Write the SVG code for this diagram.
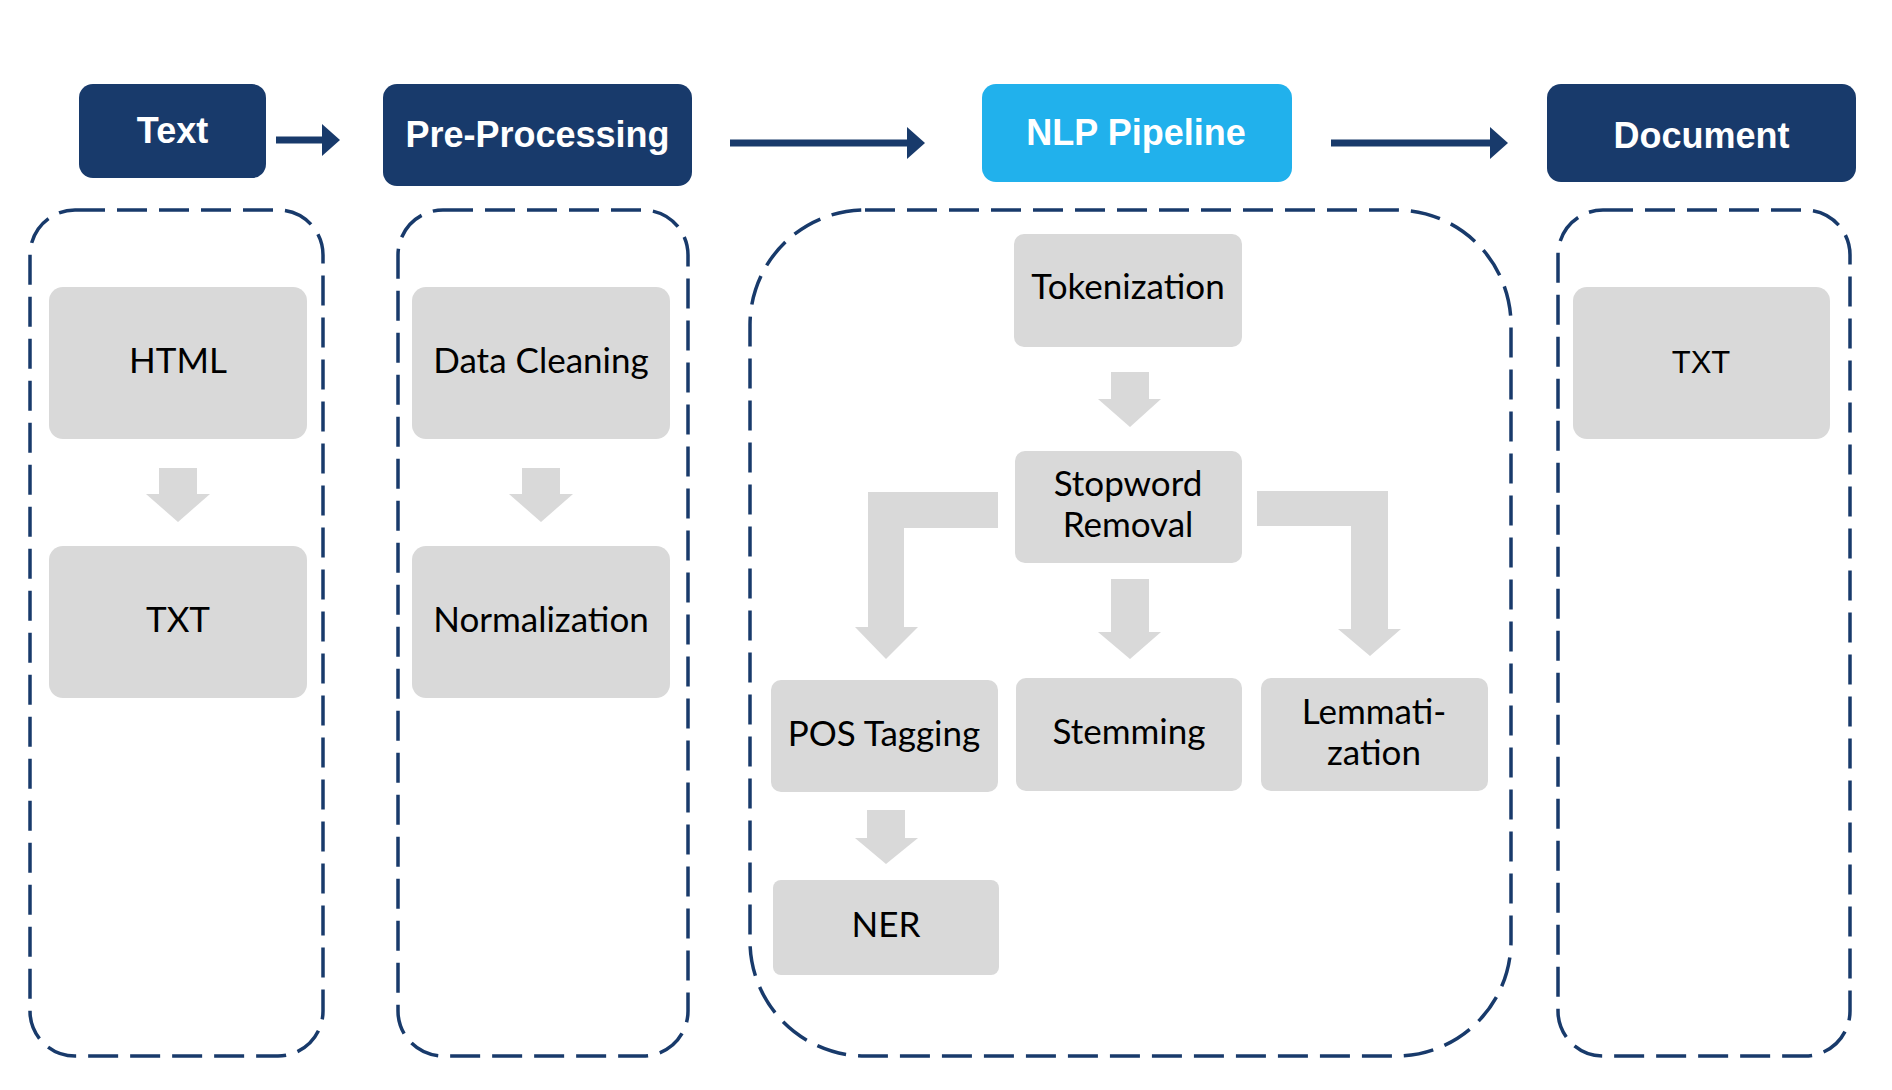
<svg xmlns="http://www.w3.org/2000/svg" width="1892" height="1090" viewBox="0 0 1892 1090">
<style>
.hdr{fill:#183a6b}
.hdr2{fill:#21b1ec}
.ht{font-family:"Liberation Sans",Arial,sans-serif;font-weight:bold;font-size:36px;fill:#fff;text-anchor:middle}
.box{fill:#d9d9d9}
.bt{font-family:Lato,"Liberation Sans",sans-serif;font-size:35px;fill:#000;text-anchor:middle}
.bt2{font-family:"Liberation Sans",Arial,sans-serif;font-size:31px;fill:#000;text-anchor:middle}
.cont{fill:none;stroke:#183a6b;stroke-width:3.5;stroke-dasharray:30 12}
.nav{stroke:#183a6b;stroke-width:7;fill:none}
.ga{fill:#d9d9d9}
</style>
<defs>
<marker id="ah" markerUnits="userSpaceOnUse" markerWidth="20" markerHeight="32" refX="0" refY="16" orient="auto">
<path d="M0,0 L18,16 L0,32 Z" fill="#183a6b"/>
</marker>
</defs>
<rect width="1892" height="1090" fill="#fff"/>
<g id="containers">
<rect class="cont" x="30" y="210" width="293" height="846" rx="45" ry="45"/>
<rect class="cont" x="398" y="210" width="290" height="846" rx="45" ry="45"/>
<rect class="cont" x="750" y="210" width="761" height="846" rx="115" ry="115"/>
<rect class="cont" x="1558" y="210" width="292" height="846" rx="45" ry="45"/>
</g>
<g id="connectors">
<line class="nav" x1="276" y1="140" x2="322" y2="140" marker-end="url(#ah)"/>
<line class="nav" x1="730" y1="143" x2="907" y2="143" marker-end="url(#ah)"/>
<line class="nav" x1="1331" y1="143" x2="1490" y2="143" marker-end="url(#ah)"/>
<polygon class="ga" points="159,468 197,468 197,494 210,494 178,522 146,494 159,494"/>
<polygon class="ga" points="522,468 560,468 560,494 573,494 541,522 509,494 522,494"/>
<polygon class="ga" points="1111,372 1149,372 1149,399 1161,399 1130,427 1098,399 1111,399"/>
<polygon class="ga" points="998,492 868,492 868,627 855,627 886,659 918,627 904,627 904,528 998,528"/>
<polygon class="ga" points="1111,579 1149,579 1149,632 1161,632 1130,659 1098,632 1111,632"/>
<polygon class="ga" points="1257,491 1388,491 1388,629 1401,629 1370,656 1338,629 1351,629 1351,526 1257,526"/>
<polygon class="ga" points="867,810 905,810 905,838 918,838 886,864 855,838 867,838"/>
</g>
<g id="text-header"><rect class="hdr" x="79" y="84" width="187" height="94" rx="14"/><text class="ht" x="172.5" y="143">Text</text></g>
<g id="preprocessing-header"><rect class="hdr" x="383" y="84" width="309" height="102" rx="14"/><text class="ht" x="537.5" y="147">Pre-Processing</text></g>
<g id="nlp-header"><rect class="hdr2" x="982" y="84" width="310" height="98" rx="14"/><text class="ht" x="1136" y="145">NLP Pipeline</text></g>
<g id="document-header"><rect class="hdr" x="1547" y="84" width="309" height="98" rx="14"/><text class="ht" x="1701.5" y="148">Document</text></g>
<g id="html"><rect class="box" x="49" y="287" width="258" height="152" rx="14"/><text class="bt" x="178" y="373">HTML</text></g>
<g id="txt1"><rect class="box" x="49" y="546" width="258" height="152" rx="14"/><text class="bt" x="178" y="632">TXT</text></g>
<g id="datacleaning"><rect class="box" x="412" y="287" width="258" height="152" rx="14"/><text class="bt" x="541" y="373">Data Cleaning</text></g>
<g id="normalization"><rect class="box" x="412" y="546" width="258" height="152" rx="14"/><text class="bt" x="541" y="632">Normalization</text></g>
<g id="tokenization"><rect class="box" x="1014" y="234" width="228" height="113" rx="10"/><text class="bt" x="1128" y="299">Tokenization</text></g>
<g id="stopword"><rect class="box" x="1015" y="451" width="227" height="112" rx="10"/><text class="bt" x="1128" y="496">Stopword</text><text class="bt" x="1128" y="537">Removal</text></g>
<g id="pos"><rect class="box" x="771" y="680" width="227" height="112" rx="10"/><text class="bt" x="884" y="746">POS Tagging</text></g>
<g id="stemming"><rect class="box" x="1016" y="678" width="226" height="113" rx="10"/><text class="bt" x="1129" y="744">Stemming</text></g>
<g id="lemmatization"><rect class="box" x="1261" y="678" width="227" height="113" rx="10"/><text class="bt" x="1374" y="724">Lemmati-</text><text class="bt" x="1374" y="765">zation</text></g>
<g id="ner"><rect class="box" x="773" y="880" width="226" height="95" rx="8"/><text class="bt" x="886" y="937">NER</text></g>
<g id="txt2"><rect class="box" x="1573" y="287" width="257" height="152" rx="14"/><text class="bt2" x="1701" y="373">TXT</text></g>
</svg>
